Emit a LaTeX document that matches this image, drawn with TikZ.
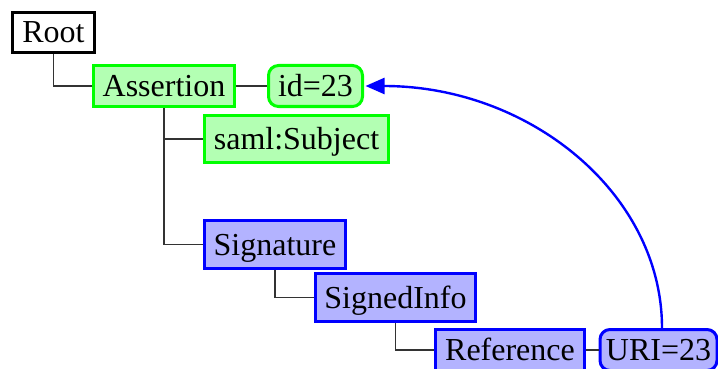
\documentclass[tikz,border=0pt]{standalone}
\usepackage{fontspec}
\setmainfont{Liberation Serif}
\usetikzlibrary{arrows.meta}
\definecolor{greenfill}{RGB}{179,255,179}
\definecolor{bluefill}{RGB}{179,179,255}
\definecolor{greenline}{RGB}{0,255,0}
\definecolor{blueline}{RGB}{0,0,255}
\tikzset{
  box/.style={draw, line width=3pt, inner sep=0pt, minimum height=41pt,
    font=\fontsize{32}{38}\selectfont, text height=21pt, text depth=0pt},
  plainbox/.style={box, draw=black, fill=white},
  greenbox/.style={box, draw=greenline, fill=greenfill},
  bluebox/.style={box, draw=blueline, fill=bluefill},
  attr/.style={rounded corners=10pt},
  tree/.style={draw=black!80, line width=1.4pt},
  refarrow/.style={draw=blueline, line width=2.4pt, -{Triangle[length=19pt,width=16pt]}}
}
\begin{document}
\begin{tikzpicture}[x=1pt,y=-1pt]
\useasboundingbox (0,0) rectangle (718,369);

% element nodes
\node[plainbox, minimum width=82pt, minimum height=40pt] (root) at (53.5,32.5) {Root};
\node[greenbox, minimum width=141pt] (assert) at (164,86) {Assertion};
\node[greenbox, attr, minimum width=94pt] (id) at (315.5,86) {id=23};
\node[greenbox, minimum width=184pt, minimum height=47pt] (subj) at (296.5,139) {saml:Subject};
\node[bluebox, minimum width=141pt, minimum height=48pt] (sig) at (275,244.5) {Signature};
\node[bluebox, minimum width=160pt, minimum height=48pt] (si) at (395.5,297.5) {SignedInfo};
\node[bluebox, minimum width=149pt] (ref) at (510,350) {Reference};
\node[bluebox, attr, minimum width=117pt] (uri) at (658.5,350) {URI=23};

% tree edges
\draw[tree] (root.south) |- (assert.west);
\draw[tree] (assert.east) -- (id.west);
\draw[tree] (assert.south) |- (subj.west);
\draw[tree] (assert.south) |- (sig.west);
\draw[tree] (sig.south) |- (si.west);
\draw[tree] (si.south) |- (ref.west);
\draw[tree] (ref.east) -- (uri.west);

% reference link back to the id attribute
\coordinate (src) at ([xshift=3.5pt]uri.north);
\draw[refarrow] (src) .. controls (662,194) and (530,86) .. ([xshift=1.5pt]id.east);
\end{tikzpicture}
\end{document}
